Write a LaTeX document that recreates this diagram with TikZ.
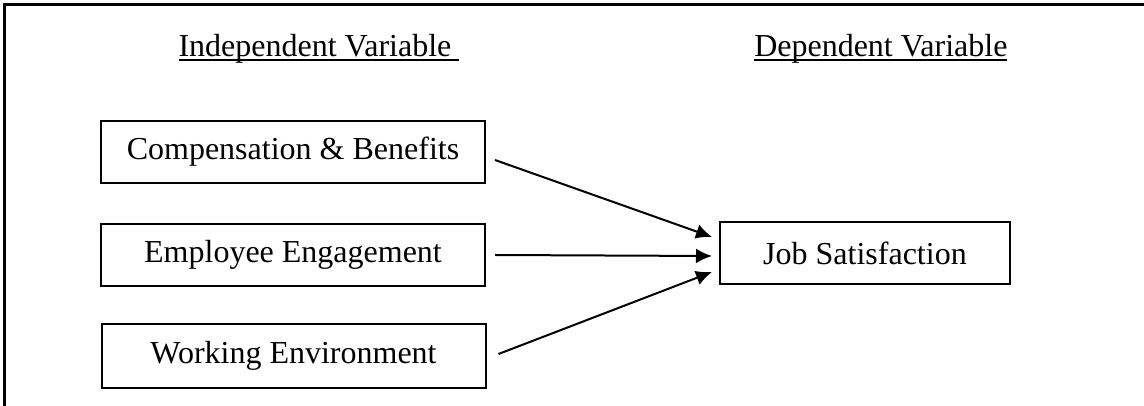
\documentclass[tikz,border=0pt]{standalone}
\usepackage{fontspec}
\setmainfont{Liberation Serif}
\usetikzlibrary{arrows.meta}
\newcommand{\headline}[1]{\setbox0\hbox{#1}\rlap{\rule[-1.6pt]{\wd0}{0.75pt}}\box0}
\begin{document}
\begin{tikzpicture}[x=0.375pt,y=0.375pt,>={Latex[length=6pt,width=5.6pt]}]
	\tikzstyle{varbox}=[rectangle,draw=black,line width=0.75pt,minimum width=144pt,minimum height=23.25pt,inner sep=0pt,font=\fontsize{12}{14}\selectfont]
	\tikzstyle{depbox}=[varbox,minimum width=108.75pt]
	\tikzstyle{heading}=[inner sep=0pt,font=\fontsize{12}{14}\selectfont]
	\tikzstyle{link}=[->,line width=0.75pt]
	\useasboundingbox (0,0) rectangle (1144,406);
	\draw[line width=0.9pt] (1144,401.5) -| (4.5,0);
	\node[heading,anchor=base west] (indep) at (178,349) {\headline{Independent Variable~}};
	\node[heading,anchor=base east] (dep) at (1008,349) {\headline{Dependent Variable}};
	\node[varbox] (comp) at (293,254) {Compensation \& Benefits};
	\node[varbox] (empl) at (293,151) {Employee Engagement};
	\node[varbox,minimum height=24pt] (work) at (293.5,50) {Working Environment};
	\node[depbox] (job) at (865,153) {Job Satisfaction};
	\draw[link] ([shift={(9,-8)}]comp.east) -- ([shift={(-7,16)}]job.west);
	\draw[link] ([shift={(9,0)}]empl.east) -- ([shift={(-7,-3)}]job.west);
	\draw[link] ([shift={(12,2)}]work.east) -- ([shift={(-7,-19)}]job.west);
\end{tikzpicture}
\end{document}
